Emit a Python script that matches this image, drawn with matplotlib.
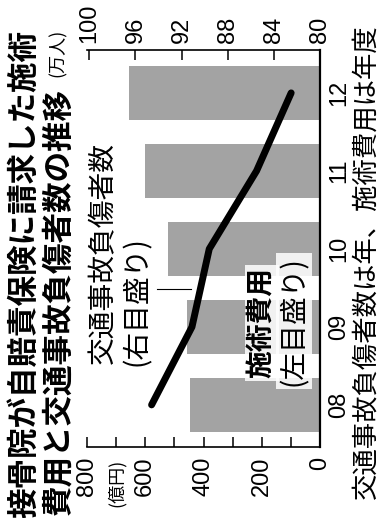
import matplotlib
matplotlib.use('Agg')
import matplotlib.pyplot as plt
from matplotlib.lines import Line2D

YEARS = ['08', '09', '10', '11', '12']
FEES = [446, 457, 522, 601, 656]          # 施術費用 (億円), 左目盛り
INJURED = [94.6, 91.1, 89.6, 85.5, 82.5]  # 交通事故負傷者数 (万人), 右目盛り
FEE_TICKS = [0, 200, 400, 600, 800]
FEE_MINOR = [100, 300, 500, 700]
INJ_TICKS = [80, 84, 88, 92, 96, 100]

JP = ['Noto Sans CJK JP', 'DejaVu Sans']
NUM = ['Liberation Sans', 'DejaVu Sans']

W, H = 382, 518
fig = plt.figure(figsize=(W / 100, H / 100), dpi=100)


def fx(px):
    return px / W


def fy(py):
    return 1 - py / H


# the whole chart is printed turned 90 degrees counter-clockwise
ax = fig.add_axes([fx(87), fy(447), fx(320) - fx(87), fy(50) - fy(447)])
pos = list(range(len(YEARS)))
ax.barh(pos, FEES, height=0.7, color='#a3a3a3', zorder=1)
ax.set_xlim(800, 0)
ax.set_ylim(-0.54, 4.55)

for s in ['left', 'top']:
    ax.spines[s].set_visible(False)
ax.spines['right'].set_linewidth(1.6)
ax.spines['bottom'].set_linewidth(1.2)

ax.set_xticks(FEE_TICKS)
ax.set_xticks(FEE_MINOR, minor=True)
ax.set_xticklabels([str(v) for v in FEE_TICKS], rotation=90, fontsize=17, family=NUM)
ax.tick_params(axis='x', which='both', direction='in', length=7, width=1.1, pad=7)

ax.yaxis.tick_right()
ax.set_yticks(pos)
ax.set_yticklabels(YEARS, rotation=90, fontsize=17, family=NUM, va='center')
ax.tick_params(axis='y', length=0, pad=6)

ax2 = ax.twiny()
ax2.plot(INJURED, pos, color='black', lw=5, solid_capstyle='round', zorder=3)
ax2.set_xlim(100.2, 80)
for s in ['left', 'bottom', 'right']:
    ax2.spines[s].set_visible(False)
ax2.spines['top'].set_linewidth(1.2)
ax2.set_xticks(INJ_TICKS)
ax2.set_xticklabels([str(v) for v in INJ_TICKS], rotation=90, fontsize=17, family=NUM)
ax2.tick_params(axis='x', direction='in', length=7, width=1.1, pad=5)

# title
fig.text(fx(24), fy(30), '接骨院が自賠責保険に請求した施術', rotation=90, ha='center', va='top',
         fontsize=22, fontweight='bold', family=JP)
fig.text(fx(58), fy(88), '費用と交通事故負傷者数の推移', rotation=90, ha='center', va='top',
         fontsize=22, fontweight='bold', family=JP)
fig.text(fx(58), fy(53), '(万人)', rotation=90, ha='center', va='center', fontsize=13, family=JP)
fig.text(fx(117), fy(483), '(億円)', rotation=90, ha='center', va='center', fontsize=13, family=JP)

# footnote
fig.text(fx(366), fy(262), '交通事故負傷者数は年、施術費用は年度', rotation=90, ha='center',
         va='center', fontsize=19, family=JP)

# series labels
fig.text(fx(103), fy(253), '交通事故負傷者数', rotation=90, ha='center', va='center',
         fontsize=20, family=JP)
fig.text(fx(137), fy(301), '(右目盛り)', rotation=90, ha='center', va='center',
         fontsize=20, family=JP)
fig.add_artist(Line2D([fx(157), fx(191)], [fy(289), fy(289)], color='black', lw=0.8,
                      transform=fig.transFigure))

box = dict(facecolor='white', edgecolor='none', alpha=0.85, pad=2)
fig.text(fx(262), fy(323), '施術費用', rotation=90, ha='center', va='center',
         fontsize=20, fontweight='bold', family=JP, bbox=box, zorder=5)
fig.text(fx(294), fy(321), '(左目盛り)', rotation=90, ha='center', va='center',
         fontsize=20, family=JP, bbox=box, zorder=5)

fig.savefig('out.png', dpi=100)
